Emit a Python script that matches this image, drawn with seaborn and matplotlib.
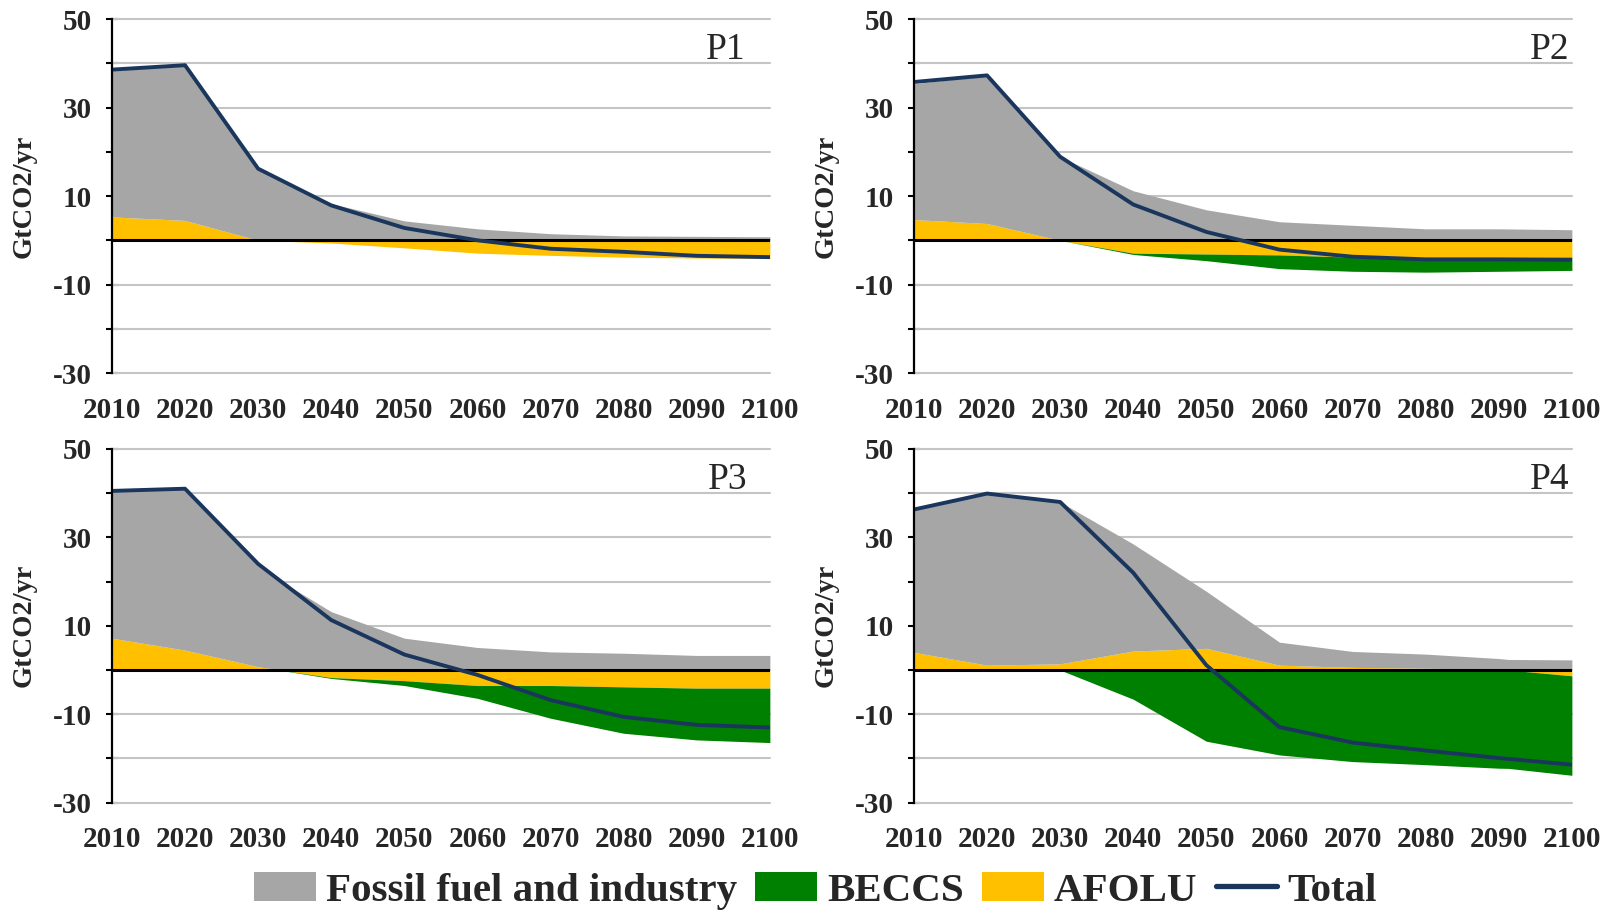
import numpy as np
import pandas as pd
import matplotlib
matplotlib.use("Agg")
import matplotlib.pyplot as plt
from matplotlib.patches import Patch
from matplotlib.lines import Line2D
import seaborn as sns

# ---- data (GtCO2/yr) ----
years = [2010, 2020, 2030, 2040, 2050, 2060, 2070, 2080, 2090, 2100]
panels = ["P1", "P2", "P3", "P4"]

fossil_p1 = [33.5, 35.1, 16.2, 8.3, 4.4, 2.6, 1.5, 1.0, 0.9, 0.8]
afolu_p1 = [5.3, 4.5, 0.0, -0.6, -1.7, -2.9, -3.4, -3.8, -4.0, -4.1]
beccs_p1 = [0, 0, 0, 0, 0, 0, 0, 0, 0, 0]
total_p1 = [38.6, 39.6, 16.2, 7.9, 2.8, 0.0, -1.9, -2.6, -3.5, -3.8]

fossil_p2 = [30.7, 33.5, 18.9, 11.2, 6.9, 4.2, 3.4, 2.6, 2.6, 2.4]
afolu_p2 = [4.7, 3.8, 0.0, -2.9, -3.1, -3.3, -3.8, -3.9, -3.9, -3.8]
beccs_p2 = [0, 0, 0, -0.3, -1.5, -3.1, -3.2, -3.3, -3.1, -3.0]
total_p2 = [35.8, 37.3, 18.9, 8.1, 1.9, -2.1, -3.7, -4.3, -4.3, -4.4]

fossil_p3 = [33.3, 36.5, 23.2, 13.2, 7.2, 5.1, 4.1, 3.8, 3.3, 3.3]
afolu_p3 = [7.2, 4.5, 0.75, -1.7, -2.4, -3.5, -3.5, -3.8, -4.1, -4.1]
beccs_p3 = [0, 0, 0, -0.2, -1.1, -2.9, -7.4, -10.5, -11.7, -12.3]
total_p3 = [40.5, 41.0, 24.0, 11.3, 3.5, -1.1, -6.8, -10.6, -12.4, -13.0]

fossil_p4 = [32.1, 38.8, 36.6, 24.2, 12.9, 5.2, 3.6, 3.2, 2.4, 2.3]
afolu_p4 = [4.0, 1.1, 1.4, 4.3, 4.9, 1.1, 0.6, 0.4, 0.2, -1.3]
beccs_p4 = [0, 0, 0, -6.6, -16.1, -19.2, -20.7, -21.4, -22.2, -22.5]
total_p4 = [36.3, 39.9, 38.0, 22.0, 1.1, -12.9, -16.4, -18.2, -19.9, -21.4]

series_names = ["Fossil fuel and industry", "BECCS", "AFOLU", "Total"]
y_ticks = [-30, -20, -10, 0, 10, 20, 30, 40, 50]
y_tick_labels = ["-30", "", "-10", "", "10", "", "30", "", "50"]

# ---- style ----
sns.set_theme(style="white")
plt.rcParams["font.family"] = ["Liberation Serif", "DejaVu Serif"]

C_FOSSIL = "#A6A6A6"
C_BECCS = "#008000"
C_AFOLU = "#FFC000"
C_TOTAL = "#1B365D"
C_GRID = "#C4C4C4"

data = {
    "P1": (fossil_p1, afolu_p1, beccs_p1, total_p1),
    "P2": (fossil_p2, afolu_p2, beccs_p2, total_p2),
    "P3": (fossil_p3, afolu_p3, beccs_p3, total_p3),
    "P4": (fossil_p4, afolu_p4, beccs_p4, total_p4),
}

fig = plt.figure(figsize=(16.15, 9.10), dpi=100)
ax_w, ax_h = 0.4074, 0.3888
positions = {
    "P1": (0.0693, 0.5901),
    "P2": (0.5659, 0.5901),
    "P3": (0.0693, 0.1179),
    "P4": (0.5659, 0.1179),
}
label_x = {"P1": 0.963, "P2": 0.997, "P3": 0.966, "P4": 0.997}

xf = np.linspace(years[0], years[-1], 901)

for name in panels:
    fossil, afolu, beccs, total = data[name]
    left, bottom = positions[name]
    ax = fig.add_axes([left, bottom, ax_w, ax_h])

    f = np.interp(xf, years, fossil)
    a = np.interp(xf, years, afolu)
    b = np.interp(xf, years, beccs)
    a_pos = np.clip(a, 0, None)
    a_neg = np.clip(a, None, 0)

    # positive stack: AFOLU then fossil; negative stack: AFOLU then BECCS
    ax.fill_between(xf, 0, a_pos, color=C_AFOLU, lw=0, zorder=2)
    ax.fill_between(xf, a_pos, a_pos + f, color=C_FOSSIL, lw=0, zorder=2)
    ax.fill_between(xf, a_neg, 0, color=C_AFOLU, lw=0, zorder=2)
    ax.fill_between(xf, a_neg + b, a_neg, color=C_BECCS, lw=0, zorder=2)

    ax.axhline(0, color="black", lw=2.2, zorder=3)

    df = pd.DataFrame({"year": years, "total": total})
    sns.lineplot(data=df, x="year", y="total", ax=ax, color=C_TOTAL,
                 lw=2.8, zorder=4)

    ax.set_xlim(years[0], years[-1])
    ax.set_ylim(-30, 50)
    ax.set_yticks(y_ticks)
    ax.set_yticklabels(y_tick_labels)
    ax.set_xticks(years)
    ax.set_xticklabels([str(y) for y in years])
    ax.set_xlabel("")
    ax.set_ylabel("")

    for yv in y_ticks:
        ax.axhline(yv, color=C_GRID, lw=1.5, zorder=1, clip_on=False)

    for s in ["top", "right", "bottom"]:
        ax.spines[s].set_visible(False)
    ax.spines["left"].set_color("black")
    ax.spines["left"].set_linewidth(1.6)
    ax.spines["left"].set_zorder(5)

    ax.tick_params(axis="y", direction="inout", length=8.6, width=1.5,
                   color="black", pad=10, labelsize=21, left=True)
    ax.tick_params(axis="x", length=0, pad=17, labelsize=21)
    for lab in ax.get_xticklabels() + ax.get_yticklabels():
        lab.set_fontweight("bold")

    ax.text(-0.134, 0.5, "GtCO2/yr", transform=ax.transAxes, rotation=90,
            ha="center", va="center", fontsize=20.5, fontweight="bold")
    ax.text(label_x[name], 0.888, name, transform=ax.transAxes,
            ha="right", va="baseline", fontsize=27)

handles = [
    Patch(facecolor=C_FOSSIL, edgecolor="none"),
    Patch(facecolor=C_BECCS, edgecolor="none"),
    Patch(facecolor=C_AFOLU, edgecolor="none"),
    Line2D([0], [0], color=C_TOTAL, lw=3.8),
]
fig.legend(handles, series_names, loc="center", bbox_to_anchor=(0.505, 0.021),
           ncol=4, frameon=False, handlelength=1.5, handleheight=0.7,
           handletextpad=0.25, columnspacing=0.45,
           prop={"family": "Liberation Serif", "weight": "bold", "size": 29.5})

fig.savefig("out.png", dpi=100, facecolor="white")
